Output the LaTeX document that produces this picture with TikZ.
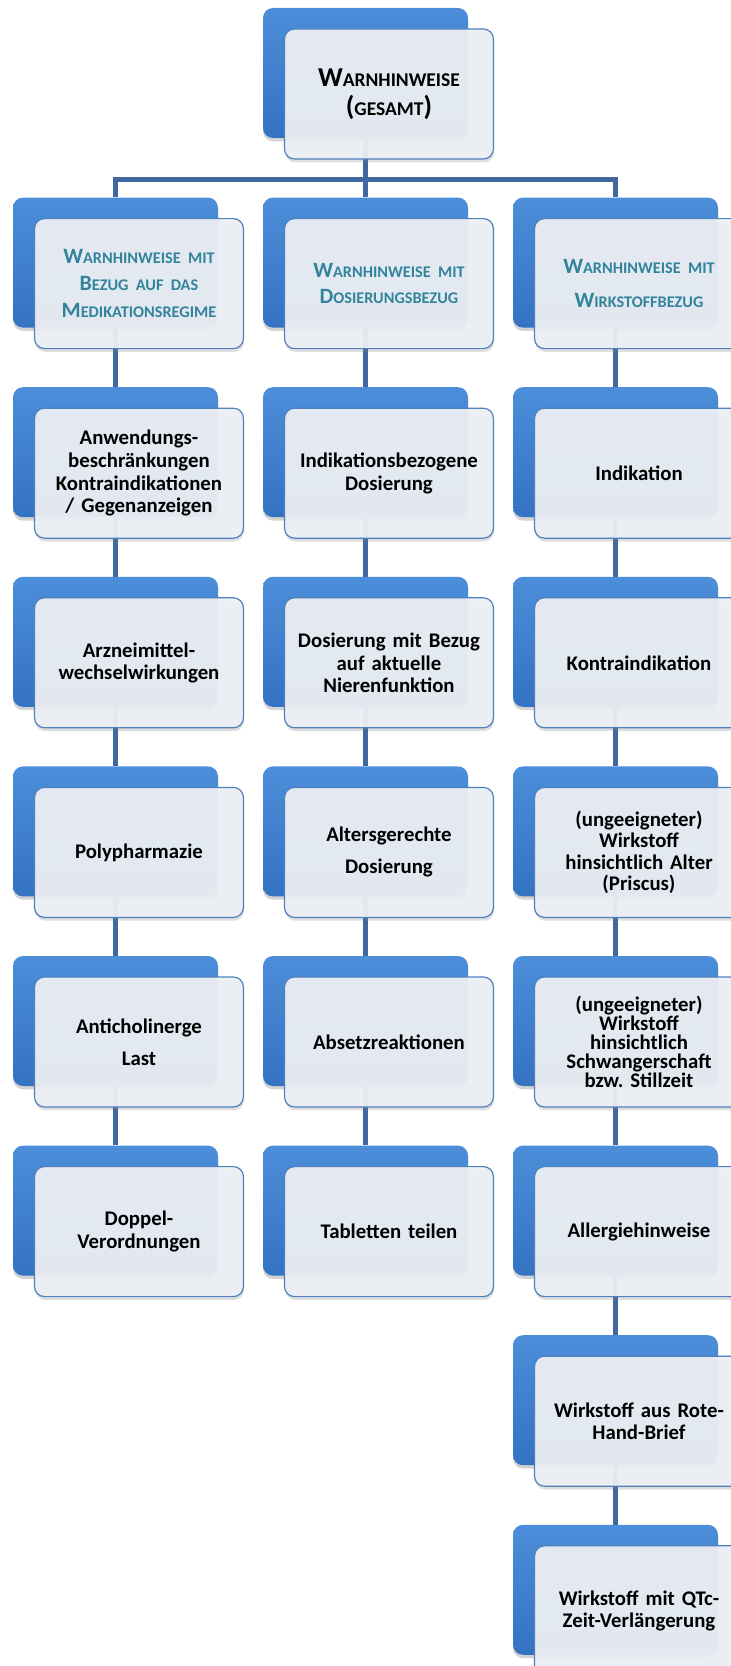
\documentclass[tikz,border=0pt]{standalone}
\usepackage{fontspec}
\setmainfont{Carlito}
\usetikzlibrary{shadows,backgrounds}
\frenchspacing

\definecolor{blauoben}{RGB}{76,142,218}
\definecolor{blauunten}{RGB}{52,114,194}
\definecolor{rahmen}{RGB}{79,129,189}
\definecolor{flaeche}{RGB}{236,239,244}
\definecolor{linienfarbe}{RGB}{62,104,158}
\definecolor{petrol}{RGB}{49,132,155}

% kleine Kapitaelchen von Hand
\newcommand\kk[1]{{\fontsize{12.2}{17}\selectfont #1}}
\newcommand\kg[1]{{\fontsize{14.6}{24}\selectfont #1}}

\begin{document}
\begin{tikzpicture}[x=0.75pt,y=-0.75pt,
  hinten/.style={rectangle,rounded corners=7.5pt,minimum width=153.75pt,minimum height=97.5pt,
    top color=blauoben,bottom color=blauunten,draw=none,
    drop shadow={opacity=0.35,shadow xshift=0pt,shadow yshift=-2.5pt}},
  vorne/.style={rectangle,rounded corners=7.5pt,minimum width=154.5pt,minimum height=97.5pt,
    xshift=17.6pt,yshift=-15.75pt,fill=flaeche,fill opacity=0.95,text opacity=1,
    draw=rahmen,line width=0.9pt,text width=150pt,align=center,
    font=\bfseries\fontsize{15.6}{17}\selectfont,
    drop shadow={opacity=0.25,shadow xshift=0.5pt,shadow yshift=-2.5pt}},
  kopf/.style={vorne,text=petrol,font=\bfseries\fontsize{16.4}{20}\selectfont},
  linie/.style={draw=linienfarbe,line width=3.75pt}]

\useasboundingbox (0,0) rectangle (731,1666);

% oberster Kasten
\node[hinten] (w) at (365.5,73) {};
\node[vorne,font=\bfseries\fontsize{20.5}{22}\selectfont] (wt) at (w) {W\kg{ARNHINWEISE}\\(\kg{GESAMT})};

% Spaltenkoepfe
\node[hinten] (m0) at (115.5,262.6) {};
\node[hinten] (d0) at (365.5,262.6) {};
\node[hinten] (s0) at (615.5,262.6) {};
\node[kopf] (m0t) at (m0) {W\kk{ARNHINWEISE MIT}\\B\kk{EZUG AUF DAS}\\M\kk{EDIKATIONSREGIME}};
\node[kopf] (d0t) at (d0) {W\kk{ARNHINWEISE MIT}\\D\kk{OSIERUNGSBEZUG}};
\node[kopf,font=\bfseries\fontsize{16.4}{26}\selectfont] (s0t) at (s0) {W\kk{ARNHINWEISE MIT}\\W\kk{IRKSTOFFBEZUG}};

% Medikationsregime
\node[hinten] (m1) at (115.5,452.2) {};
\node[hinten] (m2) at (115.5,641.8) {};
\node[hinten] (m3) at (115.5,831.4) {};
\node[hinten] (m4) at (115.5,1021) {};
\node[hinten] (m5) at (115.5,1210.6) {};
\node[vorne] (m1t) at (m1) {Anwendungs-\\beschränkungen\\Kontraindikationen\\/ Gegenanzeigen};
\node[vorne] (m2t) at (m2) {Arzneimittel-\\wechselwirkungen};
\node[vorne] (m3t) at (m3) {Polypharmazie};
\node[vorne] (m4t) at (m4) {Anticholinerge\\[7pt]Last};
\node[vorne] (m5t) at (m5) {Doppel-\\Verordnungen};

% Dosierung
\node[hinten] (d1) at (365.5,452.2) {};
\node[hinten] (d2) at (365.5,641.8) {};
\node[hinten] (d3) at (365.5,831.4) {};
\node[hinten] (d4) at (365.5,1021) {};
\node[hinten] (d5) at (365.5,1210.6) {};
\node[vorne] (d1t) at (d1) {Indikationsbezogene\\Dosierung};
\node[vorne] (d2t) at (d2) {Dosierung mit Bezug\\auf aktuelle\\Nierenfunktion};
\node[vorne] (d3t) at (d3) {Altersgerechte\\[7pt]Dosierung};
\node[vorne] (d4t) at (d4) {Absetzreaktionen};
\node[vorne] (d5t) at (d5) {Tabletten teilen};

% Wirkstoff
\node[hinten] (s1) at (615.5,452.2) {};
\node[hinten] (s2) at (615.5,641.8) {};
\node[hinten] (s3) at (615.5,831.4) {};
\node[hinten] (s4) at (615.5,1021) {};
\node[hinten] (s5) at (615.5,1210.6) {};
\node[hinten] (s6) at (615.5,1400.2) {};
\node[hinten] (s7) at (615.5,1589.8) {};
\node[vorne] (s1t) at (s1) {Indikation};
\node[vorne] (s2t) at (s2) {Kontraindikation};
\node[vorne,font=\bfseries\fontsize{15.6}{16}\selectfont] (s3t) at (s3) {(ungeeigneter)\\Wirkstoff\\hinsichtlich Alter\\(Priscus)};
\node[vorne,font=\bfseries\fontsize{15.6}{14.3}\selectfont] (s4t) at (s4) {(ungeeigneter)\\Wirkstoff\\hinsichtlich\\Schwangerschaft\\bzw. Stillzeit};
\node[vorne] (s5t) at (s5) {Allergiehinweise};
\node[vorne] (s6t) at (s6) {Wirkstoff aus Rote-\\Hand-Brief};
\node[vorne] (s7t) at (s7) {Wirkstoff mit QTc-\\Zeit-Verlängerung};

\coordinate (bar) at (365.5,180);

\begin{pgfonlayer}{background}
\draw[linie] (w) -- (d0) -- (d1) -- (d2) -- (d3) -- (d4) -- (d5);
\draw[linie] (m0) |- (bar) -| (s0);
\draw[linie] (m0) -- (m1) -- (m2) -- (m3) -- (m4) -- (m5);
\draw[linie] (s0) -- (s1) -- (s2) -- (s3) -- (s4) -- (s5) -- (s6) -- (s7);
\end{pgfonlayer}

\end{tikzpicture}
\end{document}
